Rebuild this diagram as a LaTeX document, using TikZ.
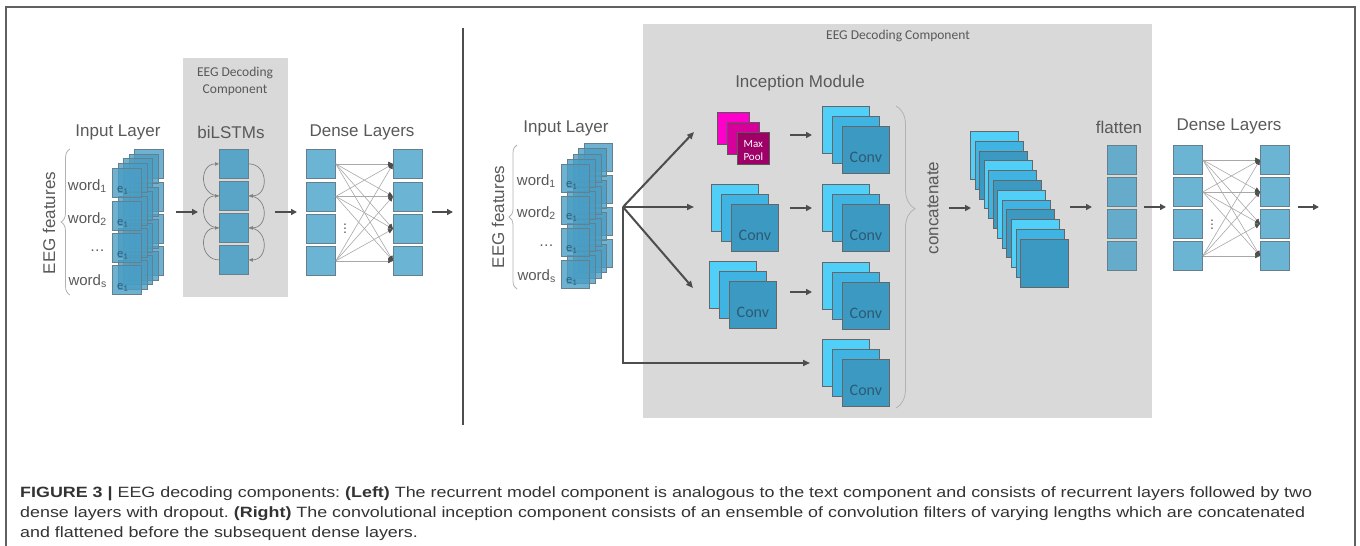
\documentclass[tikz,border=0pt]{standalone}
\usepackage{fontspec}
\setmainfont{Liberation Sans}
\newfontfamily\calfont{Carlito}
\newfontfamily\capfont[FakeStretch=1.2]{Liberation Sans}
\usetikzlibrary{positioning,arrows.meta,decorations.pathreplacing}
\definecolor{bggray}{HTML}{D9D9D9}
\definecolor{labgray}{HTML}{595959}
\definecolor{arrgray}{HTML}{4D4D4D}
\definecolor{conngray}{HTML}{A8A8A8}
\definecolor{edgegray}{HTML}{667F8C}
\definecolor{etext}{HTML}{2F5F78}
\definecolor{inblue}{HTML}{4A9DC4}
\definecolor{lstmblue}{HTML}{58A5C8}
\definecolor{denseblue}{HTML}{6BB4D4}
\definecolor{flatblue}{HTML}{66ACCA}
\definecolor{cvlight}{HTML}{50D0F8}
\definecolor{cvmid}{HTML}{3FB3E1}
\definecolor{cvdark}{HTML}{3C99C1}
\definecolor{cvtext}{HTML}{2E5B73}
\definecolor{mpA}{HTML}{FF00CC}
\definecolor{mpB}{HTML}{D6009C}
\definecolor{mpC}{HTML}{9E0068}
\tikzset{
  lbl/.style={text=labgray,font=\fontsize{17}{20}\selectfont,inner sep=0pt},
  wrd/.style={text=labgray,font=\fontsize{15}{18}\selectfont,inner sep=0pt,anchor=east},
  sml/.style={text=labgray,font=\calfont\fontsize{13.5}{17}\selectfont,inner sep=0pt,align=center},
  elab/.style={text=etext,font=\calfont\fontsize{12.5}{13}\selectfont,inner sep=0pt,anchor=south west},
  inbox/.style={draw=edgegray,fill=inblue,fill opacity=0.8,minimum size=#1,inner sep=0pt,anchor=north west,line width=0.8pt},
  cell/.style={draw=edgegray,fill=#1,minimum size=29pt,inner sep=0pt,anchor=north west,line width=0.8pt},
  cvbox/.style={draw=gray!80!black,fill=#1,minimum size=47pt,inner sep=0pt,anchor=north west,line width=0.8pt},
  cat0/.style={cvbox=cvlight,minimum size=48pt},
  cat1/.style={cvbox=cvmid,minimum size=48pt},
  cat2/.style={cvbox=cvdark,minimum size=48pt},
  mpbox/.style={draw=gray!70!black,fill=#1,minimum size=32pt,inner sep=0pt,anchor=north west,line width=0.6pt},
  cvtxt/.style={text=cvtext,font=\calfont\fontsize{16}{18}\selectfont,inner sep=0pt},
  arr/.style={draw=arrgray,line width=1.8pt,-{Triangle[length=6pt,width=6pt]}},
  hubarr/.style={draw=arrgray,line width=2pt,-{Triangle[length=7pt,width=6pt]}},
  conn/.style={draw=conngray,line width=0.6pt,-{Triangle[length=5pt,width=4.5pt,color=arrgray]}},
  cyc/.style={draw=gray,line width=0.7pt,-{Triangle[length=4pt,width=3.5pt]}},
  brc/.style={draw=gray!60,line width=0.8pt,decorate,decoration={brace,amplitude=#1,aspect=0.5}},
  dots/.style={text=labgray,font=\fontsize{14}{14}\selectfont,inner sep=0pt}
}

\begin{document}
\frenchspacing
\begin{tikzpicture}[x=1pt,y=-1pt]
  \useasboundingbox (0,0) rectangle (1360,546);
  % frame and divider
  \draw[line width=1.2pt,draw=gray!75!black] (6,546) -- (6,7) -- (1355,7) -- (1355,546);
  \draw[line width=1.5pt,draw=arrgray] (463,28) -- (463,425);
  \fill[bggray] (183,58) rectangle (288,297);
  \fill[bggray] (643,24) rectangle (1152,418);

  %% left: recurrent component
  \node[sml] (decL) at (235,81) {EEG Decoding\\Component};
  \node[lbl] (inL) at (118,132) {Input Layer};
  \node[lbl] (lstmL) at (231,132) {biLSTMs};
  \node[lbl] (denseL) at (362,132) {Dense Layers};
  \foreach \k in {4,3,2,1,0}
    \foreach \t [count=\r] in {168,201,233,265}
      \node[inbox=29pt] (inL\r-\k) at ({112+5.5*\k},{\t-4.8*\k}) {};
  \foreach \r in {1,...,4}
    \node[elab] at ([xshift=5pt,yshift=3pt]inL\r-0.south west) {e\textsubscript{1}};
  \node[wrd] (wdL1) at (107,186) {word\textsubscript{1}};
  \node[wrd] (wdL2) at (107,219) {word\textsubscript{2}};
  \node[wrd] (wdL3) at (105,251) {\dots};
  \node[wrd] (wdL4) at (107,281) {word\textsubscript{s}};
  \draw[brc=9pt] (70,295) -- (70,149);
  \node[lbl,rotate=90] (featL) at (49,223) {EEG features};

  \coordinate (aL1s) at (176,212); \coordinate (aL1e) at (198,212);
  \draw[arr] (aL1s) -- (aL1e);
  \foreach \t [count=\i] in {149,181,213,245}
    \node[cell=lstmblue] (h\i) at (219,\t) {};
  \foreach \i [evaluate=\i as \j using int(\i+1)] in {1,2,3} {
    \draw[cyc] (h\j.west) to[out=180,in=180,looseness=1.6] (h\i.west);
    \draw[cyc] (h\i.east) to[out=0,in=0,looseness=1.6] (h\j.east);
  }
  \coordinate (aL2s) at (275,212); \coordinate (aL2e) at (297,212);
  \draw[arr] (aL2s) -- (aL2e);
  \foreach \t [count=\i] in {149,181.5,214,246} {
    \node[cell=denseblue] (dL\i) at (306,\t) {};
    \node[cell=denseblue] (dR\i) at (393,\t) {};
  }
  \foreach \a in {1,2,4}
    \foreach \b in {1,...,4}
      \draw[conn] (dL\a.east) -- (dR\b.west);
  \node[dots] (vdL) at (345,226) {$\vdots$};
  \coordinate (aL3s) at (432,212); \coordinate (aL3e) at (453,212);
  \draw[arr] (aL3s) -- (aL3e);

  %% right: inception component
  \node[sml] (decR) at (898,36) {EEG Decoding Component};
  \node[lbl] (incR) at (800,83) {Inception Module};
  \node[lbl] (inR) at (566,128) {Input Layer};
  \foreach \k in {4,3,2,1,0}
    \foreach \t [count=\r] in {164,196,228,260}
      \node[inbox=28pt] (inR\r-\k) at ({561+5.75*\k},{\t-5.25*\k}) {};
  \foreach \r in {1,...,4}
    \node[elab] at ([xshift=5pt,yshift=3pt]inR\r-0.south west) {e\textsubscript{1}};
  \node[wrd] (wdR1) at (556,181) {word\textsubscript{1}};
  \node[wrd] (wdR2) at (556,213) {word\textsubscript{2}};
  \node[wrd] (wdR3) at (554,246) {\dots};
  \node[wrd] (wdR4) at (556,276) {word\textsubscript{s}};
  \draw[brc=8pt] (517,289) -- (517,145);
  \node[lbl,rotate=90] (featR) at (498,217) {EEG features};

  \coordinate (hub) at (623,207);
  \coordinate (toMP) at (694,132);
  \coordinate (toC2) at (694,207);
  \coordinate (toC3) at (693,288);
  \coordinate (toC6) at (810,363);
  \draw[hubarr] (hub) -- (toMP);
  \draw[hubarr] (hub) -- (toC2);
  \draw[hubarr] (hub) -- (toC3);
  \draw[hubarr] (hub) |- (toC6);

  \node[mpbox=mpA] (mp1) at (717,112) {};
  \node[mpbox=mpB] (mp2) at (727,122) {};
  \node[mpbox=mpC] (mp3) at (737,132) {};
  \node[text=white,font=\calfont\fontsize{11}{13}\selectfont,align=center,inner sep=0pt] (mpT) at ([yshift=-2pt]mp3.center) {Max\\Pool};

  \foreach \n/\x/\y in {a/711/184, b/709/261, c/822/106, d/822/184, e/822/262, f/822/339} {
    \node[cvbox=cvlight] (cv\n1) at (\x,\y) {};
    \node[cvbox=cvmid] (cv\n2) at (\x+10,\y+10) {};
    \node[cvbox=cvdark] (cv\n3) at (\x+20,\y+20) {};
    \node[cvtxt] at ([yshift=-7pt]cv\n3.center) {Conv};
  }
  \foreach \y [count=\i] in {135,208,292} {
    \coordinate (sA\i) at (790,\y); \coordinate (sB\i) at (812,\y);
    \draw[arr] (sA\i) -- (sB\i);
  }
  \draw[brc=19pt,decoration={aspect=0.34}] (896,106) -- (896,408);
  \node[lbl,rotate=90] (catT) at (933,208) {concatenate};
  \coordinate (aR1s) at (949,208); \coordinate (aR1e) at (971,208);
  \draw[arr] (aR1s) -- (aR1e);
  \foreach \k in {0,...,11} {
    \pgfmathtruncatemacro\c{mod(\k,3)}
    \node[cat\c] (cat\k) at ({970+4.55*\k},{131+9.8*\k}) {};
  }
  \coordinate (aR2s) at (1070,207); \coordinate (aR2e) at (1092,207);
  \draw[arr] (aR2s) -- (aR2e);
  \node[lbl] (flatT) at (1119,127) {flatten};
  \foreach \t [count=\i] in {145,177,209,241}
    \node[cell=flatblue] (fl\i) at (1107,\t) {};
  \coordinate (aR3s) at (1144,207); \coordinate (aR3e) at (1166,207);
  \draw[arr] (aR3s) -- (aR3e);
  \node[lbl] (denseR) at (1229,126) {Dense Layers};
  \foreach \t [count=\i] in {145,177,209,241} {
    \node[cell=denseblue] (eL\i) at (1173,\t) {};
    \node[cell=denseblue] (eR\i) at (1260,\t) {};
  }
  \foreach \a in {1,2,4}
    \foreach \b in {1,...,4}
      \draw[conn] (eL\a.east) -- (eR\b.west);
  \node[dots] (vdR) at (1212,222) {$\vdots$};
  \coordinate (aR4s) at (1298,207); \coordinate (aR4e) at (1319,207);
  \draw[arr] (aR4s) -- (aR4e);

  %% caption
  \begin{scope}[every node/.style={anchor=west,inner sep=0pt,text=black!80,font=\capfont\fontsize{14.9}{17}\selectfont}]
    \node (cap1) at (20,494) {\textbf{FIGURE 3 |} EEG decoding components: \textbf{(Left)} The recurrent model component is analogous to the text component and consists of recurrent layers followed by two};
    \node (cap2) at (20,514) {dense layers with dropout. \textbf{(Right)} The convolutional inception component consists of an ensemble of convolution filters of varying lengths which are concatenated};
    \node (cap3) at (20,534) {and flattened before the subsequent dense layers.};
  \end{scope}
\end{tikzpicture}
\end{document}
